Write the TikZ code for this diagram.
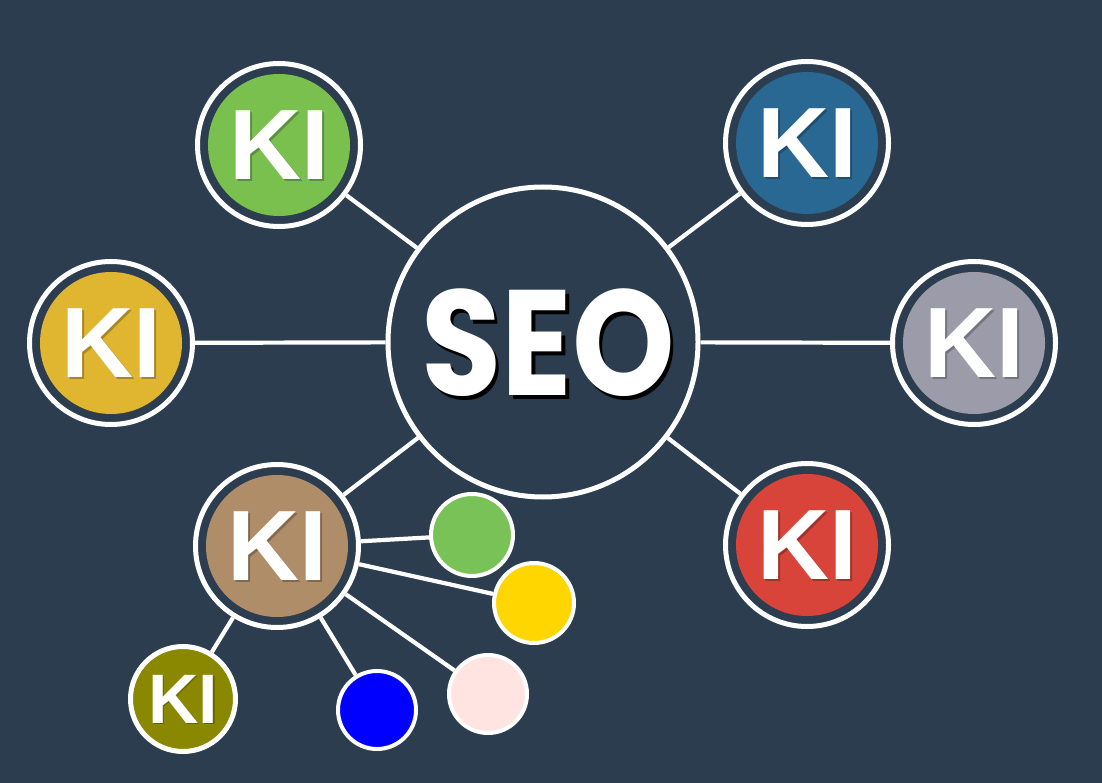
\documentclass[tikz,border=0pt]{standalone}
\usepackage{fontspec}
\setmainfont{Liberation Sans}
\newfontfamily\seofont{Poppins}
\definecolor{bg}{HTML}{2C3D4F}
\definecolor{kgreen}{HTML}{79C04F}
\definecolor{kblue}{HTML}{2A6894}
\definecolor{kyellow}{HTML}{E0B530}
\definecolor{kgrey}{HTML}{9C9BAA}
\definecolor{kred}{HTML}{D8433A}
\definecolor{kbrown}{HTML}{B08D69}
\definecolor{kolive}{HTML}{898800}
\definecolor{dgreen}{HTML}{79C257}
\definecolor{dyellow}{HTML}{FFD600}
\definecolor{dpink}{HTML}{FFE4E1}
\definecolor{dblue}{HTML}{0000FF}
\newcommand{\kinode}[3]{%
  \node[ring] (#1) at (#2) {};
  \fill[#3] (#1.center) circle (71pt);
  \node[kitext,text=black,opacity=0.25,xshift=2pt,yshift=-2pt] at (#1.center) {KI};
  \node[kitext] (#1t) at (#1.center) {KI};
}
\begin{document}
\begin{tikzpicture}[x=1pt,y=1pt,
  ring/.style={circle,draw=white,line width=5pt,fill=bg,minimum size=163pt,inner sep=0pt},
  link/.style={draw=white,line width=4.2pt},
  kitext/.style={text=white,font=\fontsize{100}{100}\selectfont\bfseries,inner sep=0pt},
  smallki/.style={text=white,font=\fontsize{70}{70}\selectfont\bfseries,inner sep=0pt},
  dot/.style={circle,draw=white,line width=4pt,inner sep=0pt},
  hub/.style={circle,draw=white,line width=5pt,fill=bg,minimum size=310pt,inner sep=0pt},
  seotext/.style={font=\fontsize{150}{150}\seofont\bfseries,inner sep=0pt,xscale=0.87,transform shape}]
\fill[bg] (0,0) rectangle (1102,-783);
\useasboundingbox (0,0) rectangle (1102,-783);
% hub
\node[hub] (seo) at (543,-342) {};
\node[seotext,text=black,xshift=4pt,yshift=-4pt] at (548,-343) {SEO};
\node[seotext,text=white] (seot) at (548,-343) {SEO};
% KI nodes
\kinode{kg}{279,-145}{kgreen}
\kinode{kb}{807,-143}{kblue}
\kinode{ky}{111,-343}{kyellow}
\kinode{kgr}{974,-343}{kgrey}
\kinode{kr}{807,-545}{kred}
\kinode{kbr}{277,-546}{kbrown}
% olive KI
\node[circle,draw=white,line width=5pt,fill=kolive,minimum size=105pt,inner sep=0pt] (ko) at (183,-699) {};
\node[smallki,text=black,opacity=0.25,xshift=1.5pt,yshift=-1.5pt] at (ko.center) {KI};
\node[smallki] (kot) at (ko.center) {KI};
% small dots
\node[dot,fill=dgreen,minimum size=82pt] (d1) at (472,-535) {};
\node[dot,fill=dyellow,minimum size=80pt] (d2) at (534,-603) {};
\node[dot,fill=dpink,minimum size=78pt] (d3) at (488,-694) {};
\node[dot,fill=dblue,minimum size=78pt] (d4) at (377,-710) {};
% connectors
\draw[link] (seo) -- (kg);
\draw[link] (seo) -- (kb);
\draw[link] (seo) -- (ky);
\draw[link] (seo) -- (kgr);
\draw[link] (seo) -- (kr);
\draw[link] (seo) -- (kbr);
\draw[link] (kbr) -- (d1);
\draw[link] (kbr) -- (d2);
\draw[link] (kbr) -- (d3);
\draw[link] (kbr) -- (d4);
\draw[link] (kbr) -- (ko);
\end{tikzpicture}
\end{document}
